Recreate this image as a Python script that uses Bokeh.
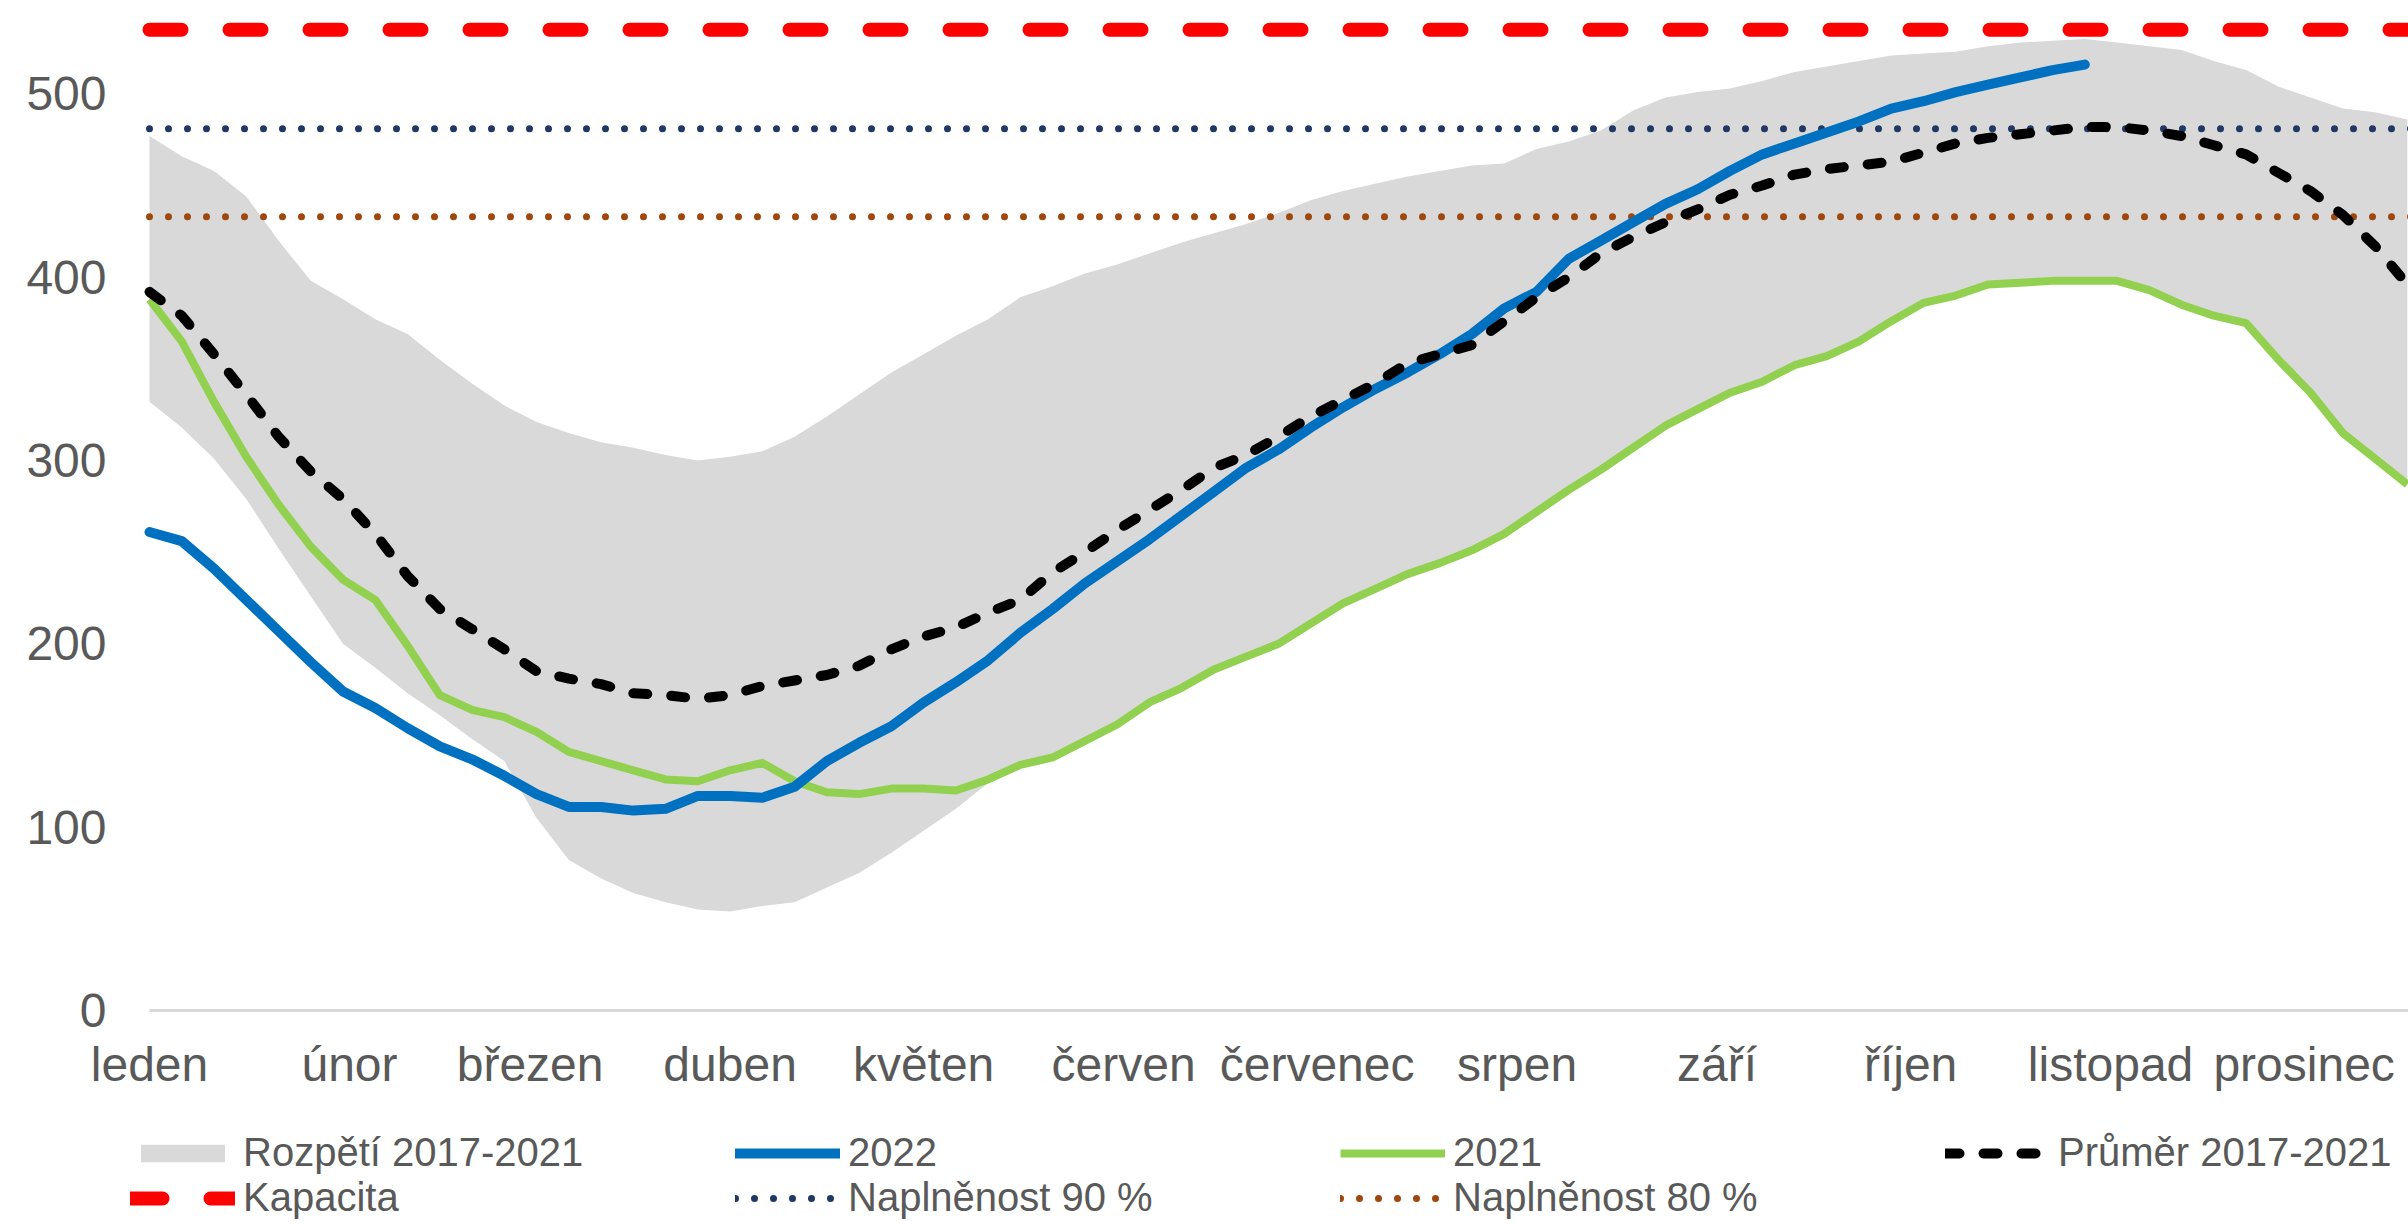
from bokeh.plotting import figure
from bokeh.models import Range1d, FixedTicker, Legend, LegendItem
from bokeh.embed import file_html
from bokeh.resources import INLINE

# ---- data (day of year) ----
days = list(range(0, 351, 5))
days_2022 = list(range(0, 301, 5))

band_upper = [477, 466, 458, 444, 420, 398, 388, 377, 369, 355,
              342, 330, 321, 315, 310, 307, 303, 300, 302, 305,
              313, 324, 336, 348, 358, 368, 377, 389, 395, 402,
              407, 413, 419, 424, 429, 435, 442, 447, 451, 455,
              458, 461, 462, 470, 474, 480, 491, 498, 501, 503,
              507, 512, 515, 518, 521, 522, 523, 526, 528, 529,
              530, 528, 526, 524, 518, 513, 504, 498, 492, 490, 486]

band_lower = [332, 318, 301, 279, 252, 226, 200, 187, 173, 161,
              148, 136, 105, 82, 72, 64, 59, 55, 54, 57,
              59, 67, 75, 86, 98, 110, 124, 134, 138, 147,
              156, 168, 176, 186, 193, 200, 211, 222, 230, 238,
              244, 251, 260, 272, 284, 295, 307, 319, 328, 337,
              343, 352, 357, 365, 376, 386, 390, 396, 397, 398,
              398, 398, 393, 385, 379, 375, 355, 337, 315, 301, 287]

y2021 = [388, 365, 332, 302, 276, 253, 235, 224, 199, 172,
         164, 160, 152, 141, 136, 131, 126, 125, 131, 135,
         125, 119, 118, 121, 121, 120, 126, 134, 138, 147,
         156, 168, 176, 186, 193, 200, 211, 222, 230, 238,
         244, 251, 260, 272, 284, 295, 307, 319, 328, 337,
         343, 352, 357, 365, 376, 386, 390, 396, 397, 398,
         398, 398, 393, 385, 379, 375, 355, 337, 315, 301, 287]

y2022 = [261, 256, 241, 224, 207, 190, 174, 165, 154, 144,
         137, 128, 118, 111, 111, 109, 110, 117, 117, 116,
         122, 136, 146, 155, 168, 179, 191, 206, 219, 233,
         245, 257, 270, 283, 296, 306, 318, 329, 339, 348,
         358, 369, 383, 392, 410, 420, 430, 440, 448, 458,
         467, 473, 479, 485, 492, 496, 501, 505, 509, 513, 516]

avg = [392, 379, 358, 336, 313, 294, 279, 260, 237, 219,
       208, 197, 185, 181, 178, 173, 172, 170, 172, 177,
       180, 183, 188, 197, 204, 209, 217, 224, 239, 250,
       262, 273, 284, 296, 303, 313, 324, 333, 342, 353,
       358, 363, 376, 389, 400, 413, 422, 430, 437, 445,
       450, 456, 459, 461, 463, 468, 473, 476, 478, 480,
       482, 482, 480, 477, 472, 467, 457, 447, 434, 417, 396]

capacity = 535
full90 = 481
full80 = 433
year_span = [0, 365]

month_starts = [0, 31, 59, 90, 120, 151, 181, 212, 243, 273, 304, 334]
month_names = ["leden", "únor", "březen", "duben", "květen", "červen",
               "červenec", "srpen", "září", "říjen", "listopad", "prosinec"]
y_ticks = [0, 100, 200, 300, 400, 500]

FONT = "Liberation Sans"
TXT = "#595959"

# the frame covers the whole canvas; both axes are pinned inside it
p = figure(frame_width=2408, frame_height=1224,
           min_border_left=0, min_border_right=0, min_border_top=0, min_border_bottom=0,
           x_range=Range1d(-23.097, 350.18), y_range=Range1d(-116.8, 550.96),
           output_backend="svg", toolbar_location=None)
p.outline_line_color = None
p.xgrid.visible = False
p.ygrid.visible = False
p.background_fill_color = "white"
p.border_fill_color = "white"

r_band = p.varea(x=days, y1=band_lower, y2=band_upper, fill_color="#d9d9d9")
r_cap = p.line(x=year_span, y=[capacity, capacity], line_color="#ff0000", line_width=14,
               line_dash="32 48", line_cap="round")
r_90 = p.line(x=year_span, y=[full90, full90], line_color="#203864", line_width=7,
              line_dash="0 19", line_cap="round")
r_80 = p.line(x=year_span, y=[full80, full80], line_color="#9e480e", line_width=7,
              line_dash="0 19", line_cap="round")
r_21 = p.line(x=days, y=y2021, line_color="#92d050", line_width=8, line_join="round")
r_22 = p.line(x=days_2022, y=y2022, line_color="#0070c0", line_width=10, line_join="round",
              line_cap="round")
r_avg = p.line(x=days, y=avg, line_color="black", line_width=10, line_dash="14 24",
               line_cap="round", line_join="round")

# axes
p.xaxis.fixed_location = 0
p.xaxis.bounds = (0, 366)
p.xaxis.ticker = FixedTicker(ticks=month_starts)
p.xaxis.major_label_overrides = {m: n for m, n in zip(month_starts, month_names)}
p.xaxis.axis_line_color = "#d9d9d9"
p.xaxis.axis_line_width = 3
p.xaxis.major_tick_line_color = None
p.xaxis.minor_tick_line_color = None
p.xaxis.major_label_standoff = 22
p.xaxis.major_label_text_font = FONT
p.xaxis.major_label_text_font_size = "48px"
p.xaxis.major_label_text_color = TXT

p.yaxis.fixed_location = 0
p.yaxis.ticker = FixedTicker(ticks=y_ticks)
p.yaxis.axis_line_color = None
p.yaxis.major_tick_line_color = None
p.yaxis.minor_tick_line_color = None
p.yaxis.major_label_standoff = 37
p.yaxis.major_label_text_font = FONT
p.yaxis.major_label_text_font_size = "48px"
p.yaxis.major_label_text_color = TXT

legend = Legend(items=[
    LegendItem(label="Rozpětí 2017-2021", renderers=[r_band]),
    LegendItem(label="2022", renderers=[r_22]),
    LegendItem(label="2021", renderers=[r_21]),
    LegendItem(label="Průměr 2017-2021", renderers=[r_avg]),
    LegendItem(label="Kapacita", renderers=[r_cap]),
    LegendItem(label="Naplněnost 90 %", renderers=[r_90]),
    LegendItem(label="Naplněnost 80 %", renderers=[r_80]),
], location=(130, 4), orientation="horizontal", ncols=4)
legend.glyph_width = 105
legend.glyph_height = 22
legend.label_standoff = 8
legend.label_width = 492
legend.label_height = 44
legend.spacing = 0
legend.padding = 0
legend.margin = 0
legend.border_line_color = None
legend.background_fill_alpha = 0
legend.label_text_font = FONT
legend.label_text_font_size = "40px"
legend.label_text_color = TXT
p.add_layout(legend, "center")

open("out.html", "w").write(file_html(p, INLINE))
